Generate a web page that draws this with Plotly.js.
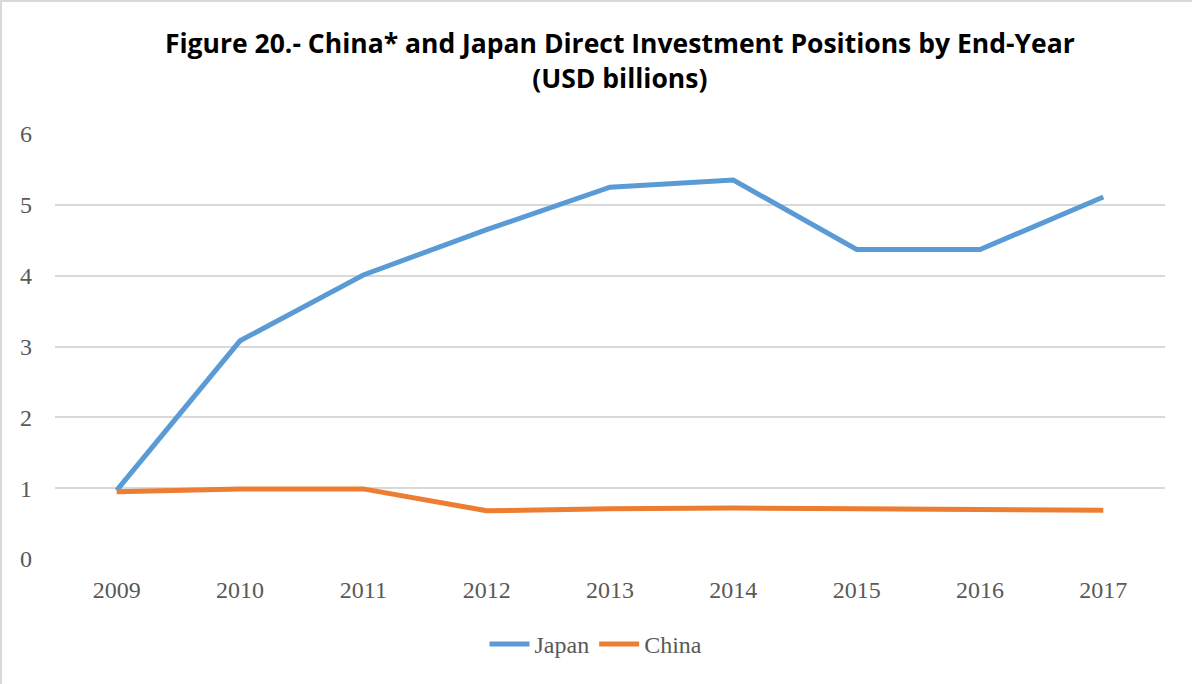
<!DOCTYPE html>
<html>
<head>
<meta charset="utf-8">
<script src="https://cdn.plot.ly/plotly-3.0.1.min.js"></script>
<style>
html,body{margin:0;padding:0;background:#fff;}
#wrap{position:absolute;left:0;top:0;width:1192px;height:684px;box-sizing:border-box;border:2px solid #d9d9d9;border-right:none;border-bottom:none;}
#chart{position:absolute;left:0;top:0;width:1192px;height:684px;}
</style>
</head>
<body>
<div id="wrap"></div>
<div id="chart"></div>
<script>
const years = ['2009','2010','2011','2012','2013','2014','2015','2016','2017'];
const japan = [0.97, 3.08, 4.01, 4.65, 5.25, 5.35, 4.37, 4.37, 5.11];
const china = [0.95, 0.99, 0.99, 0.68, 0.71, 0.72, 0.71, 0.70, 0.69];

const serif = 'Liberation Serif, DejaVu Serif, serif';
const traces = [
  {x: years, y: japan, name: 'Japan', type: 'scatter', mode: 'lines',
   line: {color: '#5b9bd5', width: 5}},
  {x: years, y: china, name: 'China', type: 'scatter', mode: 'lines',
   line: {color: '#ed7d31', width: 5}}
];
const layout = {
  width: 1192, height: 684,
  paper_bgcolor: 'rgba(0,0,0,0)', plot_bgcolor: 'rgba(0,0,0,0)',
  margin: {l: 55, r: 27, t: 134, b: 125},
  title: {
    text: '<b>Figure 20.- China* and Japan Direct Investment Positions by End-Year<br>(USD billions)</b>',
    font: {family: 'Open Sans, sans-serif', size: 26.5, color: '#000'},
    x: 0.52, xanchor: 'center', xref: 'container',
    y: 0.922, yanchor: 'middle', yref: 'container'
  },
  xaxis: {
    type: 'category', range: [-0.5, 8.5],
    showgrid: false, zeroline: false, showline: false, ticks: '',
    tickfont: {family: serif, size: 24, color: '#595959'},
    ticklabelstandoff: 14
  },
  yaxis: {
    range: [0, 6], dtick: 1, showgrid: true, gridcolor: '#d9d9d9', gridwidth: 2,
    zeroline: false, showline: false, ticks: '',
    tickfont: {family: serif, size: 24, color: '#595959'},
    ticklabelstandoff: 22
  },
  showlegend: true,
  legend: {
    orientation: 'h', x: 0.5, xanchor: 'center', xref: 'container',
    y: 0.058, yanchor: 'middle', yref: 'container',
    font: {family: serif, size: 24, color: '#595959'},
    itemwidth: 40, traceorder: 'normal'
  }
};
Plotly.newPlot('chart', traces, layout, {displayModeBar: false, staticPlot: true});
</script>
</body>
</html>
